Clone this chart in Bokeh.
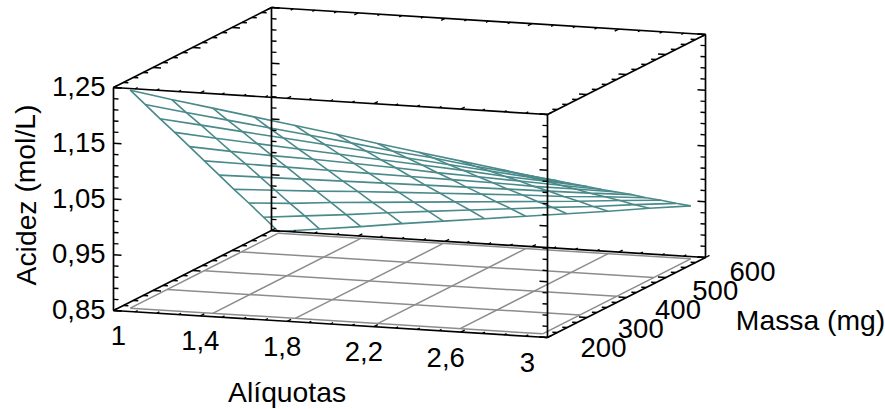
from bokeh.plotting import figure
from bokeh.models import Range1d
from bokeh.core.properties import value
from bokeh.embed import file_html
from bokeh.resources import INLINE

# --- chart values ---
a_ticks = [1, 1.4, 1.8, 2.2, 2.6, 3]
a_labels = ["1", "1,4", "1,8", "2,2", "2,6", "3"]
m_ticks = [200, 300, 400, 500, 600]
m_labels = ["200", "300", "400", "500", "600"]
z_ticks = [0.85, 0.95, 1.05, 1.15, 1.25]
z_labels = ["0,85", "0,95", "1,05", "1,15", "1,25"]

mesh_a = [1.05, 1.24, 1.43, 1.62, 1.81, 2.0, 2.19, 2.38, 2.57, 2.76, 2.95]
mesh_m = [215, 252.5, 290, 327.5, 365, 402.5, 440, 477.5, 515, 552.5, 590]
mesh_z = [
    [1.241, 1.229, 1.218, 1.207, 1.196, 1.185, 1.173, 1.162, 1.151, 1.140, 1.129],
    [1.202, 1.192, 1.183, 1.174, 1.165, 1.156, 1.146, 1.138, 1.128, 1.120, 1.111],
    [1.163, 1.156, 1.149, 1.142, 1.135, 1.128, 1.120, 1.113, 1.106, 1.099, 1.092],
    [1.125, 1.119, 1.114, 1.109, 1.104, 1.099, 1.094, 1.089, 1.083, 1.079, 1.074],
    [1.086, 1.082, 1.079, 1.077, 1.074, 1.071, 1.067, 1.064, 1.061, 1.058, 1.055],
    [1.047, 1.046, 1.045, 1.044, 1.043, 1.042, 1.041, 1.040, 1.038, 1.038, 1.037],
    [1.008, 1.009, 1.010, 1.011, 1.012, 1.013, 1.014, 1.015, 1.016, 1.017, 1.019],
    [0.969, 0.972, 0.975, 0.979, 0.982, 0.985, 0.988, 0.991, 0.993, 0.997, 1.000],
    [0.931, 0.935, 0.941, 0.946, 0.951, 0.956, 0.961, 0.966, 0.971, 0.977, 0.982],
    [0.892, 0.899, 0.906, 0.914, 0.921, 0.928, 0.935, 0.942, 0.948, 0.956, 0.963],
    [0.853, 0.862, 0.871, 0.881, 0.890, 0.899, 0.908, 0.917, 0.926, 0.936, 0.945],
]
floor_a = [1.05, 1.43, 1.81, 2.19, 2.57, 2.95]
floor_m = [215, 308.75, 402.5, 496.25, 590]

A0, A1, M0, M1, Z0, Z1 = 1, 3, 200, 600, 0.85, 1.25
TEAL = "#4a8a8a"
GREY = "#8c8c8c"
FONT = value("Liberation Sans")
FS = value("27.5px")
TS = value("28.3px")


def project(a, m, z):
    fa, fm, fz = (a - A0) / (A1 - A0), (m - M0) / (M1 - M0), (z - Z0) / (Z1 - Z0)
    return 113 + 434 * fa + 158 * fm, 310 + 27 * fa - 80 * fm - 223 * fz


p = figure(width=885, height=409, output_backend="svg", toolbar_location=None,
           x_range=Range1d(0, 885), y_range=Range1d(409, 0),
           min_border=0, outline_line_color=None)
p.xaxis.visible = False
p.yaxis.visible = False
p.grid.visible = False
p.background_fill_color = "white"


def polyline(points):
    pts = [project(*q) for q in points]
    return [q[0] for q in pts], [q[1] for q in pts]


# floor grid
xs, ys = [], []
for a in floor_a:
    x, y = polyline([(a, floor_m[0], Z0), (a, floor_m[-1], Z0)])
    xs.append(x); ys.append(y)
for m in floor_m:
    x, y = polyline([(floor_a[0], m, Z0), (floor_a[-1], m, Z0)])
    xs.append(x); ys.append(y)
p.multi_line(xs, ys, line_color=GREY, line_width=1.5)

# surface mesh
xs, ys = [], []
for j, m in enumerate(mesh_m):
    x, y = polyline([(a, m, mesh_z[j][i]) for i, a in enumerate(mesh_a)])
    xs.append(x); ys.append(y)
for i, a in enumerate(mesh_a):
    x, y = polyline([(a, m, mesh_z[j][i]) for j, m in enumerate(mesh_m)])
    xs.append(x); ys.append(y)
p.multi_line(xs, ys, line_color=TEAL, line_width=1.6)

# box edges
edges = [
    ((A0, M0, Z0), (A1, M0, Z0)), ((A0, M1, Z0), (A1, M1, Z0)),
    ((A0, M0, Z1), (A1, M0, Z1)), ((A0, M1, Z1), (A1, M1, Z1)),
    ((A0, M0, Z0), (A0, M1, Z0)), ((A1, M0, Z0), (A1, M1, Z0)),
    ((A0, M0, Z1), (A0, M1, Z1)), ((A1, M0, Z1), (A1, M1, Z1)),
    ((A0, M0, Z0), (A0, M0, Z1)), ((A0, M1, Z0), (A0, M1, Z1)),
    ((A1, M0, Z0), (A1, M0, Z1)), ((A1, M1, Z0), (A1, M1, Z1)),
]
xs, ys = [], []
for s, e in edges:
    x, y = polyline([s, e])
    xs.append(x); ys.append(y)
p.multi_line(xs, ys, line_color="black", line_width=1.7)

# ticks
x0, y0, x1, y1 = [], [], [], []


def tick(point, da, dm):
    a, m, z = point
    sx, sy = project(a, m, z)
    ex, ey = project(a + da, m + dm, z)
    x0.append(sx); y0.append(sy); x1.append(ex); y1.append(ey)


AUNIT = 1 / 217.0   # a-units per horizontal pixel
MUNIT = 400 / 158.0  # m-units per horizontal pixel

for k in range(21):
    z = Z0 + k * 0.02
    L = 8 if k % 5 == 0 else 5
    tick((A0, M0, z), L * AUNIT, 0)
    tick((A0, M1, z), L * AUNIT, 0)
    tick((A1, M0, z), -L * AUNIT, 0)
    tick((A1, M1, z), -L * AUNIT, 0)

for k in range(17):
    m = M0 + k * 25
    L = 8 if k % 4 == 0 else 5
    for z in (Z0, Z1):
        tick((A0, m, z), L * AUNIT, 0)
        tick((A1, m, z), -L * AUNIT, 0)

for k in range(21):
    a = A0 + k * 0.1
    L = 4 if k % 4 == 0 else 2.5
    tick((a, M0, Z0), 0, L * MUNIT)
    tick((a, M1, Z0), 0, L * MUNIT)
    tick((a, M0, Z1), 0, L * MUNIT)
    tick((a, M1, Z1), 0, -L * MUNIT)

p.segment(x0, y0, x1, y1, line_color="black", line_width=1.4)

# tick labels
zx, zy = [], []
for z in z_ticks:
    x, y = project(A0, M0, z)
    zx.append(x - 8); zy.append(y - 1)
p.text(zx, zy, text=z_labels, text_align="right", text_baseline="middle",
       text_font=FONT, text_font_size=FS, text_color="black")

ax, ay = [], []
for i, a in enumerate(a_ticks):
    x, y = project(a, M0, Z0)
    ax.append(x + 5 - 5 * i); ay.append(y + 25)
p.text(ax, ay, text=a_labels, text_align="center", text_baseline="middle",
       text_font=FONT, text_font_size=FS, text_color="black")

mx, my = [], []
for i, m in enumerate(m_ticks):
    x, y = project(A1, m, Z0)
    mx.append(x + 56 - 2.25 * i); my.append(y + 10 + i)
p.text(mx, my, text=m_labels, text_align="center", text_baseline="middle",
       text_font=FONT, text_font_size=FS, text_color="black")

# axis titles
ttl_x, ttl_y = project(A0 + 0.8, M0, Z0)
p.text([ttl_x], [ttl_y + 71], text=["Alíquotas"], text_align="center", text_baseline="middle",
       text_font=FONT, text_font_size=TS, text_color="black")
ttl_x, ttl_y = project(A1, M1, Z0)
p.text([ttl_x + 105], [ttl_y + 62], text=["Massa (mg)"], text_align="center", text_baseline="middle",
       text_font=FONT, text_font_size=TS, text_color="black")
ttl_x, ttl_y = project(A0, M0, 1.05)
p.text([ttl_x - 88], [ttl_y - 4], text=["Acidez (mol/L)"], angle=1.5708, angle_units="rad",
       text_align="center", text_baseline="middle",
       text_font=FONT, text_font_size=TS, text_color="black")

open("out.html", "w").write(file_html(p, INLINE))
